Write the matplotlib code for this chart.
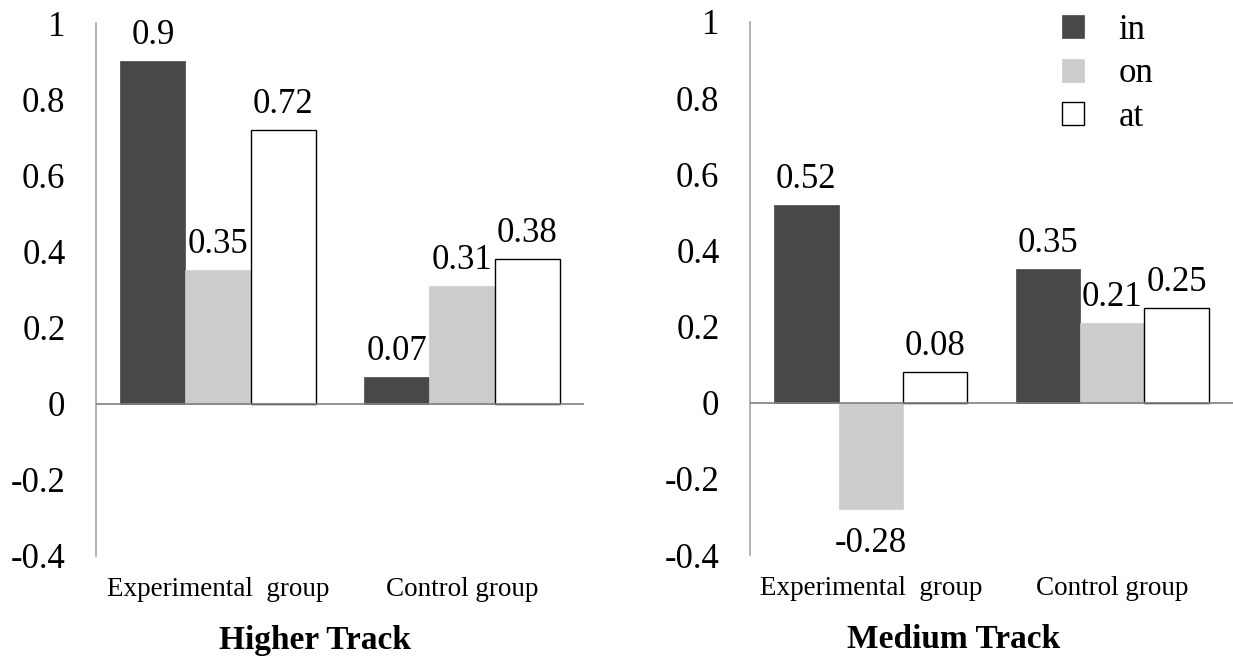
import matplotlib
matplotlib.use("Agg")
import matplotlib.pyplot as plt
import numpy as np

plt.rcParams['font.family'] = ['Liberation Serif', 'DejaVu Serif']

categories = ["Experimental  group", "Control group"]
series_names = ["in", "on", "at"]
higher_in = [0.9, 0.07]
higher_on = [0.35, 0.31]
higher_at = [0.72, 0.38]
medium_in = [0.52, 0.35]
medium_on = [-0.28, 0.21]
medium_at = [0.08, 0.25]
panel_titles = ["Higher Track", "Medium Track"]
yticks = [-0.4, -0.2, 0, 0.2, 0.4, 0.6, 0.8, 1.0]
ytick_labels = ["-0.4", "-0.2", "0", "0.2", "0.4", "0.6", "0.8", "1"]

colors = ["#484848", "#cccccc", "#ffffff"]
edges = ["#484848", "#cccccc", "#000000"]

W, H = 1233, 662
fig = plt.figure(figsize=(W / 100, H / 100), dpi=100)

def px_axes(x0, x1, ytop, ybot):
    return fig.add_axes([x0 / W, 1 - ybot / H, (x1 - x0) / W, (ybot - ytop) / H])

axL = px_axes(96, 584, 23, 556)
axR = px_axes(750, 1233, 22, 555)

panels = [
    (axL, [higher_in, higher_on, higher_at]),
    (axR, [medium_in, medium_on, medium_at]),
]

NUM_FS = 25
bw = 0.2667
x = np.arange(len(categories))
for ax, data in panels:
    handles = []
    for i, vals in enumerate(data):
        bars = ax.bar(x + (i - 1) * bw, vals, width=bw, color=colors[i],
                      edgecolor=edges[i], linewidth=1.0 if i == 2 else 0.5,
                      label=series_names[i], zorder=2)
        handles.append(bars)
        for xi, v in zip(x + (i - 1) * bw, vals):
            if v >= 0:
                ax.annotate(f"{v:g}", (xi, v), xytext=(0, 6.5), textcoords="offset points",
                            ha="center", va="bottom", fontsize=NUM_FS)
            else:
                ax.annotate(f"{v:g}", (xi, v), xytext=(0, -13), textcoords="offset points",
                            ha="center", va="top", fontsize=NUM_FS)
    ax.set_xlim(-0.5, 1.5)
    ax.set_ylim(-0.4, 1.0)
    ax.set_yticks(yticks)
    ax.set_yticklabels(ytick_labels, fontsize=NUM_FS)
    ax.set_xticks(x)
    ax.set_xticklabels(categories, fontsize=19.5)
    ax.tick_params(axis="y", length=0, pad=22)
    ax.tick_params(axis="x", length=0, pad=15)
    for s in ["top", "right", "bottom"]:
        ax.spines[s].set_visible(False)
    ax.spines["left"].set_color("#a6a6a6")
    ax.spines["left"].set_linewidth(1.2)
    ax.axhline(0, color="#808080", linewidth=1.2, zorder=3)
    ax.patch.set_alpha(0)

leg_handles = handles
fig.legend(leg_handles, series_names, loc="upper left",
           bbox_to_anchor=(1062 / W, 1 - 14 / H), frameon=False, fontsize=NUM_FS,
           handlelength=0.64, handleheight=0.64, handletextpad=0.98,
           labelspacing=0.3, borderpad=0, borderaxespad=0)

fig.text(315 / W, 1 - 640 / H, panel_titles[0], ha="center", va="center",
         fontsize=24, fontweight="bold")
fig.text(954 / W, 1 - 640 / H, panel_titles[1], ha="center", va="center",
         fontsize=24, fontweight="bold")

fig.savefig("out.png", dpi=100)
